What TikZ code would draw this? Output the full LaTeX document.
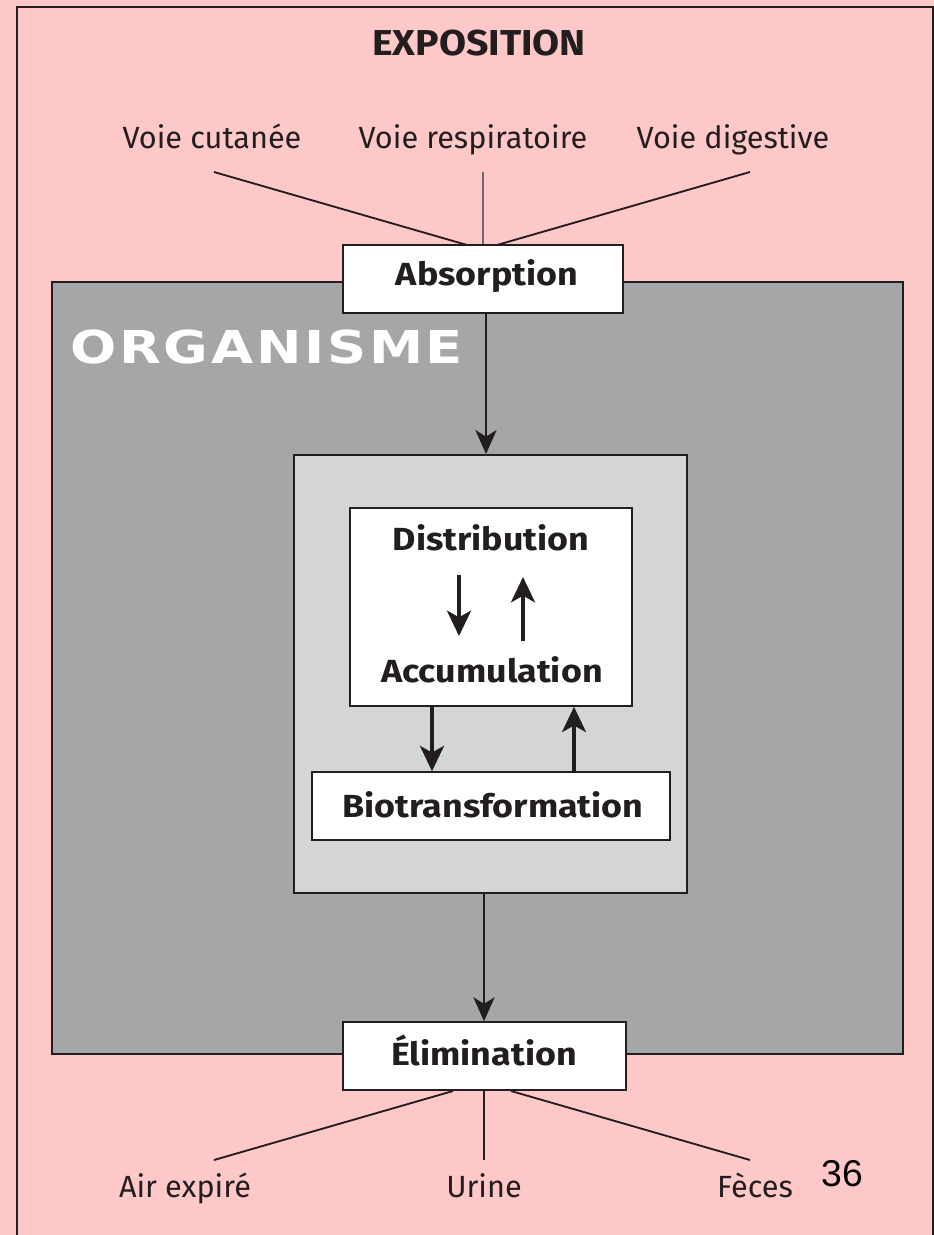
\documentclass[tikz,border=0pt]{standalone}
\usepackage{fontspec}
\setmainfont{Fira Sans}
\newfontfamily\boxfont[FakeStretch=1.12]{Fira Sans}
\newfontfamily\expofont[FakeStretch=1.09]{Fira Sans}
\newfontfamily\orgfont[FakeStretch=1.2,LetterSpace=6]{DejaVu Sans}
\newfontfamily\numfont{Liberation Sans}
\usetikzlibrary{arrows.meta,fit}
\definecolor{pinkbg}{RGB}{255,200,200}
\definecolor{darkgr}{RGB}{165,166,168}
\definecolor{lightgr}{RGB}{211,213,214}
\definecolor{ink}{RGB}{34,30,32}
\definecolor{midline}{RGB}{110,105,108}
\begin{document}
\begin{tikzpicture}[x=0.75pt,y=-0.75pt,
  box/.style={draw=ink,line width=1.2pt,fill=white,inner sep=0pt},
  lbl/.style={font=\boxfont\fontsize{24}{28}\selectfont\bfseries,text=ink,inner sep=0pt,anchor=base},
  route/.style={font=\fontsize{23}{27}\selectfont,text=ink,inner sep=0pt,anchor=base},
  conn/.style={draw=ink,line width=1.4pt},
  thinarrow/.style={draw=ink,line width=1.2pt,-{Stealth[length=18pt,width=16pt,inset=5pt]}},
  thickarrow/.style={draw=ink,line width=2.8pt,-{Stealth[length=19pt,width=18pt,inset=5pt]}}]

\useasboundingbox (0,0) rectangle (934,1235);
\fill[pinkbg] (0,0) rectangle (934,1235);
\draw[ink,line width=1.6pt] (17,1240) -- (17,7) -- (933,7) -- (933,1240);

% titles and route labels
\node[font=\expofont\fontsize{27}{30}\selectfont\bfseries,text=ink,inner sep=0pt,anchor=base] (expo) at (479,55) {EXPOSITION};
\node[route] (cut) at (212,148) {Voie cutanée};
\node[route] (resp) at (473,148) {Voie respiratoire};
\node[route] (dig) at (733,148) {Voie digestive};

\coordinate (c1) at (214,172);
\coordinate (c2) at (483,172);
\coordinate (c3) at (750,172);
\coordinate (a1) at (467,245);
\coordinate (a2) at (483,245);
\coordinate (a3) at (497,245);
\draw[conn] (c1) -- (a1);
\draw[draw=midline,line width=1.4pt] (c2) -- (a2);
\draw[conn] (c3) -- (a3);

% organism
\node[draw=ink,line width=2.2pt,fill=darkgr,inner sep=0pt,fit={(52,282) (903,1054)}] (org) {};
\node[font=\orgfont\fontsize{34}{38}\selectfont\bfseries,text=white,inner sep=0pt,anchor=base west] (orgl) at (70,363) {ORGANISME};

\node[draw=ink,line width=1.5pt,fill=lightgr,inner sep=0pt,fit={(294,455) (687,893)}] (inner) {};
\node[box,fit={(350,508) (632,706)}] (da) {};
\node[box,fit={(312,772) (670,840)}] (bio) {};

\node[lbl] (dist) at (491,550) {Distribution};
\node[lbl] (acc) at (492,682) {Accumulation};
\node[lbl] (biot) at (493,817) {Biotransformation};

\coordinate (d1) at (459,575);
\coordinate (d2) at (459,636);
\coordinate (u1) at (523,641);
\coordinate (u2) at (523,577);
\draw[thickarrow] (d1) -- (d2);
\draw[thickarrow] (u1) -- (u2);
\draw[thickarrow] (da.south -| 432,0) -- (bio.north -| 432,0);
\draw[thickarrow] (bio.north -| 574,0) -- (da.south -| 574,0);

% absorption and elimination
\node[box,fit={(343,245) (623,313)}] (abs) {};
\node[lbl] (absl) at (487,285) {Absorption};
\node[box,fit={(343,1022) (626,1090)}] (elim) {};
\node[lbl] (eliml) at (484,1065) {Élimination};

\draw[thinarrow] (abs.south -| 486,0) -- (inner.north -| 486,0);
\draw[thinarrow] (inner.south -| 484,0) -- (elim.north -| 484,0);

\coordinate (e1) at (453,1091);
\coordinate (e2) at (484,1091);
\coordinate (e3) at (511,1091);
\coordinate (b1) at (214,1160);
\coordinate (b2) at (484,1160);
\coordinate (b3) at (750,1160);
\draw[conn] (e1) -- (b1);
\draw[conn] (e2) -- (b2);
\draw[conn] (e3) -- (b3);

\node[route] (air) at (185,1197) {Air expiré};
\node[route] (uri) at (484,1197) {Urine};
\node[route] (fec) at (755,1197) {Fèces};
\node[font=\numfont\fontsize{28}{32}\selectfont,text=black,inner sep=0pt,anchor=base] (num) at (842,1186) {36};
\end{tikzpicture}
\end{document}
